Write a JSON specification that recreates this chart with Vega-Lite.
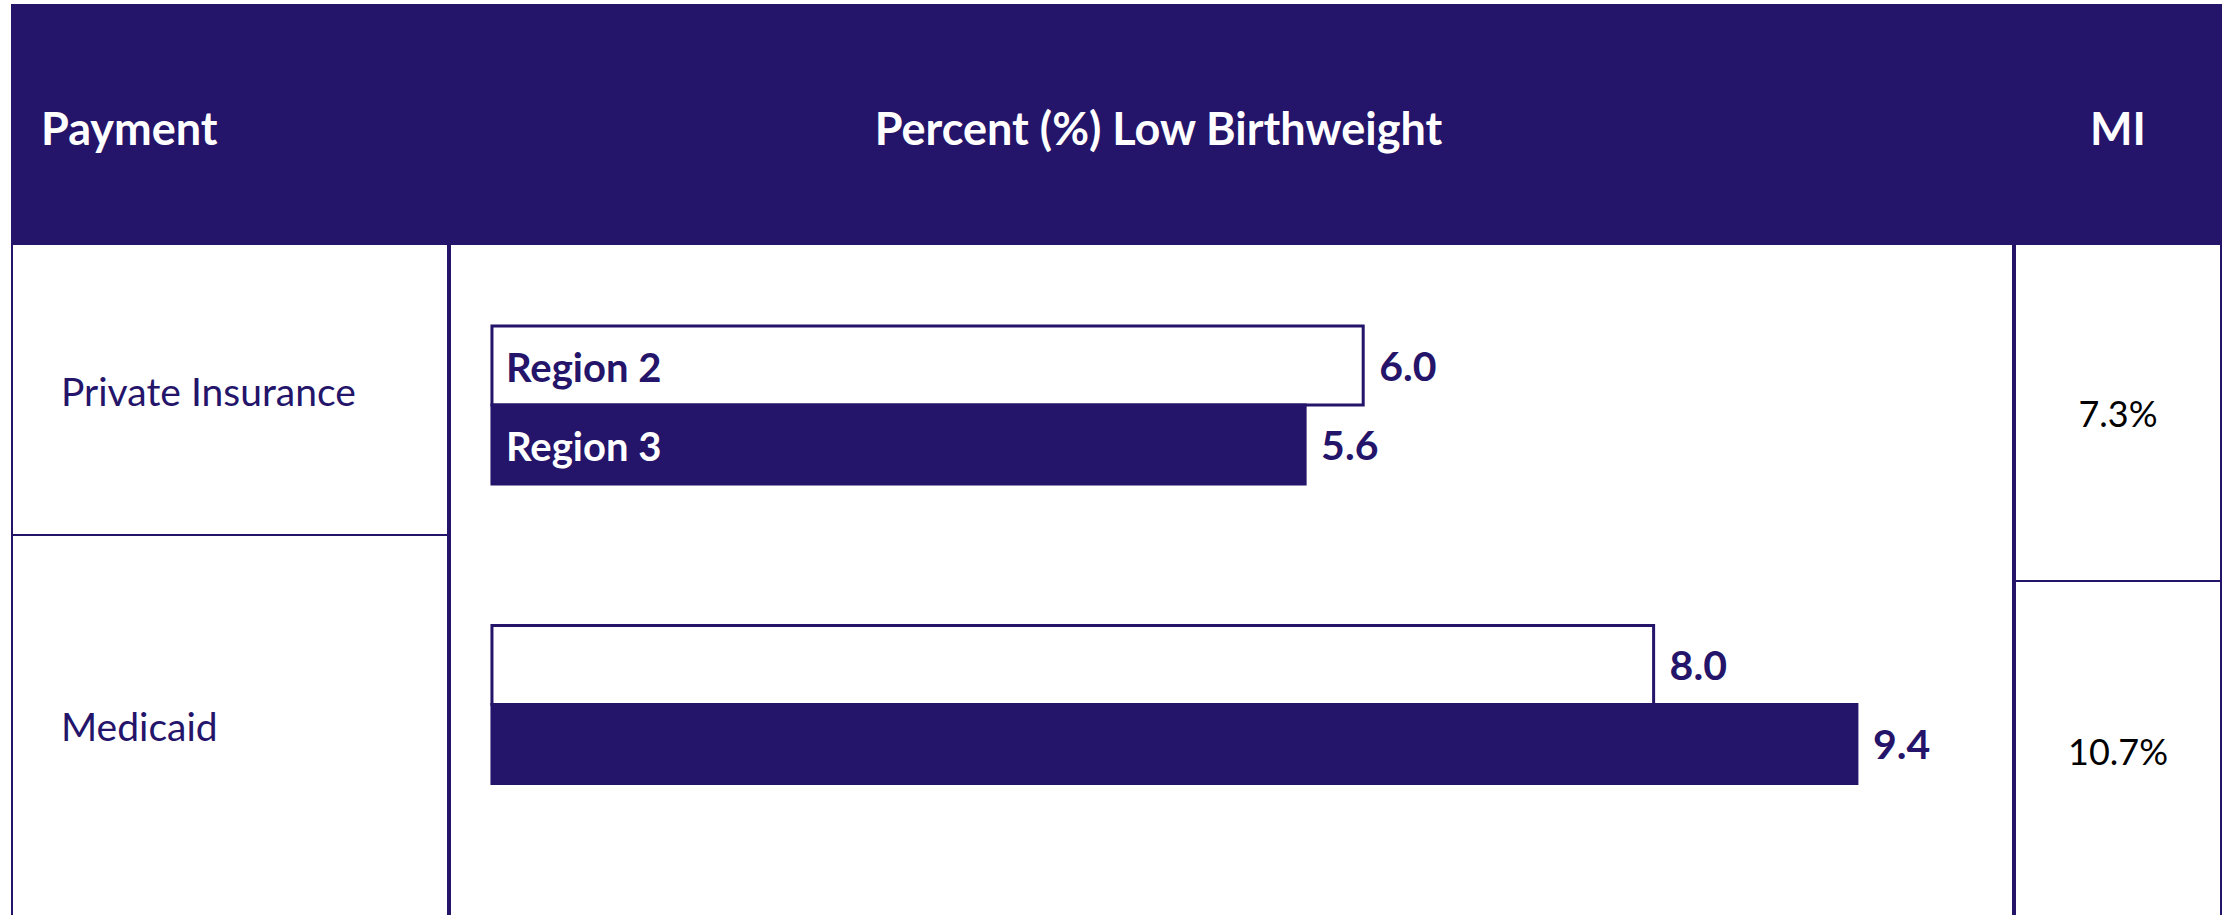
{
  "$schema": "https://vega.github.io/schema/vega-lite/v6.json",
  "background": "white",
  "padding": {"left": 11, "top": 4, "right": 0, "bottom": 0},
  "autosize": {"type": "pad"},
  "spacing": 0,
  "config": {
    "view": {"stroke": "#24146A", "strokeWidth": 2},
    "font": "Lato",
    "text": {"font": "Lato"}
  },
  "datasets": {
    "bars": [
      {"payment": "Private Insurance", "region": "Region 2", "value": 6.0},
      {"payment": "Private Insurance", "region": "Region 3", "value": 5.6},
      {"payment": "Medicaid", "region": "Region 2", "value": 8.0},
      {"payment": "Medicaid", "region": "Region 3", "value": 9.4}
    ],
    "mi": [
      {"payment": "Private Insurance", "mi": "7.3%"},
      {"payment": "Medicaid", "mi": "10.7%"}
    ],
    "header": [
      {"col": "payment", "label": "Payment"},
      {"col": "percent", "label": "Percent (%) Low Birthweight"},
      {"col": "mi", "label": "MI"}
    ]
  },
  "vconcat": [
    {
      "spacing": 0,
      "bounds": "flush",
      "hconcat": [
        {
          "width": 438, "height": 237,
          "view": {"fill": "#24146A", "stroke": "#24146A", "strokeWidth": 2},
          "data": {"name": "header"},
          "transform": [{"filter": "datum.col === 'payment'"}],
          "mark": {"type": "text", "align": "left", "baseline": "middle", "dx": -190, "dy": 7, "fontSize": 45, "fontWeight": "bold", "color": "#ffffff"},
          "encoding": {"text": {"field": "label"}}
        },
        {
          "width": 1565, "height": 237,
          "view": {"fill": "#24146A", "stroke": "#24146A", "strokeWidth": 2},
          "data": {"name": "header"},
          "transform": [{"filter": "datum.col === 'percent'"}],
          "mark": {"type": "text", "align": "center", "baseline": "middle", "dx": -74, "dy": 7, "fontSize": 45, "fontWeight": "bold", "color": "#ffffff"},
          "encoding": {"text": {"field": "label"}}
        },
        {
          "width": 206, "height": 237,
          "view": {"fill": "#24146A", "stroke": "#24146A", "strokeWidth": 2},
          "data": {"name": "header"},
          "transform": [{"filter": "datum.col === 'mi'"}],
          "mark": {"type": "text", "align": "center", "baseline": "middle", "dy": 7, "fontSize": 45, "fontWeight": "bold", "color": "#ffffff"},
          "encoding": {"text": {"field": "label"}}
        }
      ]
    },
    {
      "spacing": 0,
      "hconcat": [
        {
          "spacing": 0,
          "bounds": "flush",
          "vconcat": [
            {
              "width": 436, "height": 291,
              "view": {"stroke": "#24146A", "strokeWidth": 2, "fill": "#ffffff"},
              "data": {"name": "mi"},
              "transform": [{"filter": "datum.payment === 'Private Insurance'"}],
              "mark": {"type": "text", "align": "left", "baseline": "middle", "dx": -169, "dy": 4, "fontSize": 39, "color": "#24146A"},
              "encoding": {"text": {"field": "payment"}}
            },
            {
              "width": 436, "height": 383,
              "view": {"stroke": "#24146A", "strokeWidth": 2, "fill": "#ffffff"},
              "data": {"name": "mi"},
              "transform": [{"filter": "datum.payment === 'Medicaid'"}],
              "mark": {"type": "text", "align": "left", "baseline": "middle", "dx": -169, "dy": 2, "fontSize": 39, "color": "#24146A"},
              "encoding": {"text": {"field": "payment"}}
            }
          ]
        },
        {
          "width": 1563, "height": 674,
          "view": {"stroke": "#24146A", "strokeWidth": 2, "fill": "#ffffff"},
          "data": {"name": "bars"},
          "encoding": {
            "y": {"field": "payment", "type": "nominal", "sort": ["Private Insurance", "Medicaid"], "axis": null,
                  "scale": {"paddingInner": 0.4725, "paddingOuter": 0.3614, "align": 0.3788}},
            "yOffset": {"field": "region", "type": "nominal", "sort": ["Region 2", "Region 3"],
                        "scale": {"paddingInner": 0, "paddingOuter": 0}}
          },
          "layer": [
            {
              "mark": {"type": "bar", "stroke": "#24146A", "strokeWidth": 3},
              "encoding": {
                "x": {"field": "value", "type": "quantitative", "axis": null, "scale": {"domain": [-0.289, 10.475], "zero": false, "nice": false}},
                "fill": {"field": "region", "type": "nominal", "legend": null,
                         "scale": {"domain": ["Region 2", "Region 3"], "range": ["#ffffff", "#24146A"]}}
              }
            },
            {
              "mark": {"type": "text", "align": "left", "baseline": "middle", "dx": 16, "dy": 3, "fontSize": 41, "fontWeight": "bold", "color": "#24146A"},
              "encoding": {
                "x": {"field": "value", "type": "quantitative"},
                "text": {"field": "value", "type": "quantitative", "format": ".1f"}
              }
            },
            {
              "transform": [{"filter": "datum.payment === 'Private Insurance'"}],
              "mark": {"type": "text", "align": "left", "baseline": "middle", "dx": 14, "dy": 4, "fontSize": 40, "fontWeight": "bold"},
              "encoding": {
                "x": {"datum": 0, "type": "quantitative"},
                "text": {"field": "region"},
                "color": {"field": "region", "type": "nominal", "legend": null,
                          "scale": {"domain": ["Region 2", "Region 3"], "range": ["#24146A", "#ffffff"]}}
              }
            }
          ]
        },
        {
          "spacing": 0,
          "bounds": "flush",
          "vconcat": [
            {
              "width": 206, "height": 337,
              "view": {"stroke": "#24146A", "strokeWidth": 2, "fill": "#ffffff"},
              "data": {"name": "mi"},
              "transform": [{"filter": "datum.payment === 'Private Insurance'"}],
              "mark": {"type": "text", "align": "center", "baseline": "middle", "dy": 3, "fontSize": 36, "color": "#000000"},
              "encoding": {"text": {"field": "mi"}}
            },
            {
              "width": 206, "height": 337,
              "view": {"stroke": "#24146A", "strokeWidth": 2, "fill": "#ffffff"},
              "data": {"name": "mi"},
              "transform": [{"filter": "datum.payment === 'Medicaid'"}],
              "mark": {"type": "text", "align": "center", "baseline": "middle", "dy": 4, "fontSize": 36, "color": "#000000"},
              "encoding": {"text": {"field": "mi"}}
            }
          ]
        }
      ]
    }
  ]
}
